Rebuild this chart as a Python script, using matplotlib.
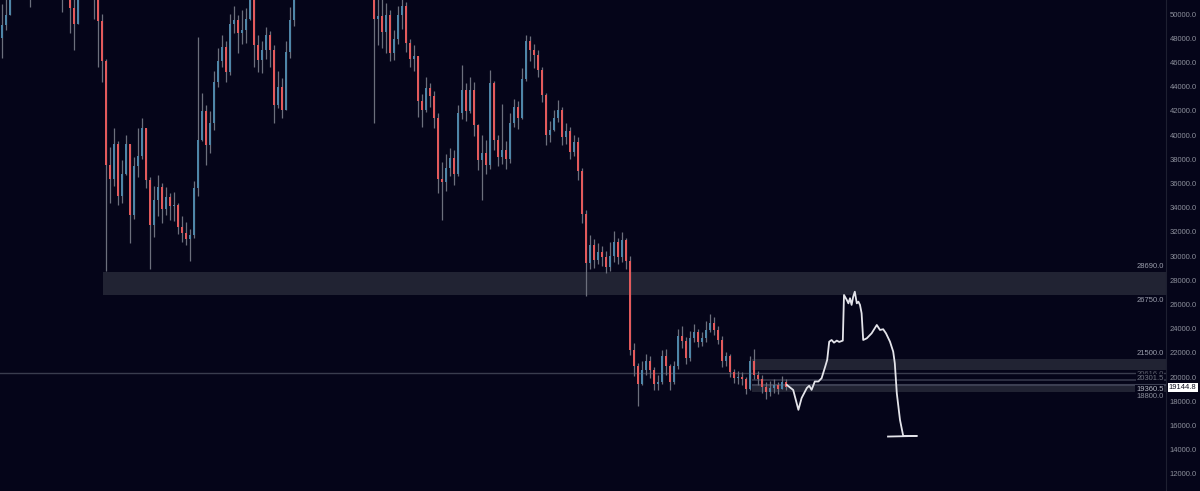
import matplotlib
matplotlib.use('Agg')
import matplotlib.pyplot as plt
import numpy as np

# daily-ish candles, price in USD
first_open = 48000
closes = [49100, 49900, 51600, 53000, 54500, 56800, 55200, 52600, 54800, 57900,
          59200, 58100, 56800, 58900, 60600, 56000, 54500, 50500, 49200, 53800,
          56200, 57400, 55800, 51500, 49400, 46100, 37500, 36400, 39300, 35000,
          36800, 39300, 33400, 37400, 38300, 40600, 36300, 32600, 34600, 35700,
          33900, 34900, 34100, 34200, 32400, 31900, 31400, 31700, 35600, 39600,
          42000, 39200, 41000, 44400, 46100, 47300, 45200, 49200, 49500, 48400,
          48700, 49600, 51400, 47400, 46200, 47000, 48300, 47000, 42500, 44000,
          42100, 46900, 49500, 52500, 55000, 57200, 56100, 60500, 62300, 60800,
          61700, 64000, 62500, 61200, 62700, 65500, 63900, 64700, 60200, 57400,
          56800, 58200, 56500, 49600, 49800, 48500, 49900, 46800, 47900, 49900,
          50700, 47600, 46300, 46500, 42800, 42100, 43900, 43200, 41400, 36400,
          36100, 37300, 38100, 36800, 41800, 43700, 42000, 43700, 40800, 37900,
          38500, 37500, 44300, 39600, 38200, 38800, 38000, 41000, 42300, 41400,
          44600, 47800, 47000, 46600, 45400, 43300, 40000, 40400, 41400, 42100,
          39800, 40300, 38600, 39400, 37000, 33500, 29400, 30900, 29700, 30300,
          29900, 29100, 30000, 31200, 29900, 31300, 29600, 22200, 20900, 19400,
          20600, 21300, 20600, 19400, 19600, 21700, 20900, 19600, 20900, 23400,
          23000, 21600, 23200, 23700, 22900, 23200, 23900, 24500, 23900, 23100,
          21300, 21700, 20400, 19900, 20000, 19800, 19000, 21300, 20200, 19800,
          19200, 18800, 19100, 19300, 19000, 19600, 19144.8]
highs = [50800, 52000, 52800, 54200, 55800, 57800, 58200, 56100, 55900, 58800,
         60700, 60100, 59300, 60200, 61800, 61300, 57200, 55400, 51500, 55100,
         57900, 59300, 58200, 56600, 52000, 50000, 46300, 39000, 40600, 39500,
         37900, 40000, 38800, 38200, 40600, 41400, 40200, 36500, 35800, 36700,
         36000, 35700, 35200, 35300, 34400, 33300, 32800, 32200, 36200, 48100,
         43500, 42500, 42000, 45300, 47200, 48300, 47800, 50000, 50700, 49900,
         50300, 50500, 52800, 52200, 48300, 47800, 48900, 48600, 47400, 45300,
         44700, 47800, 50600, 53500, 56200, 58000, 58300, 61700, 63200, 63500,
         63700, 67000, 64900, 63600, 64400, 66400, 67800, 66300, 65100, 60600,
         58900, 59200, 59300, 57000, 51500, 51300, 50900, 50300, 48700, 50700,
         51600, 51000, 47900, 47400, 46000, 43400, 44800, 44300, 43600, 41800,
         37800, 38400, 38900, 38800, 42500, 45800, 44300, 44800, 44400, 40900,
         40000, 39600, 45400, 44500, 40000, 42600, 39500, 41800, 43000, 42800,
         45500, 48300, 48200, 47500, 47000, 45600, 43500, 41200, 42100, 42900,
         42300, 41000, 40700, 40000, 39800, 37300, 33800, 31700, 31400, 31100,
         30800, 30400, 31200, 32100, 31500, 32000, 31500, 30000, 22800, 21200,
         21300, 21900, 21700, 20800, 20200, 22200, 22300, 21100, 21300, 24000,
         24200, 23300, 23800, 24400, 24000, 23700, 24600, 25200, 25000, 24200,
         23400, 22100, 21900, 20700, 20500, 20400, 20000, 21700, 22300, 20500,
         20200, 19600, 19700, 19800, 19600, 20100, 19800]
lows = [46400, 48700, 50300, 51700, 52800, 54000, 53900, 50600, 52000, 54300,
        57100, 56500, 55300, 56100, 58300, 50200, 52600, 48400, 47000, 50200,
        53200, 55100, 53500, 49600, 45600, 44400, 28800, 34400, 35800, 34200,
        34400, 36700, 31100, 33100, 36500, 38000, 35600, 28900, 31600, 33300,
        32700, 33400, 33000, 32900, 31800, 31200, 30900, 29600, 31500, 35000,
        39500, 37500, 38500, 40400, 44000, 45600, 44400, 45000, 48400, 46800,
        47500, 47600, 49500, 45600, 45200, 45100, 46300, 45600, 41000, 42200,
        41400, 42300, 46400, 49000, 52000, 54500, 54800, 55900, 59800, 58700,
        59900, 60700, 60400, 59400, 60800, 62100, 62800, 63000, 58400, 55600,
        55300, 55800, 53700, 41000, 47400, 47200, 46800, 46100, 46200, 47500,
        48800, 46900, 45600, 45300, 41500, 40700, 41900, 42300, 40600, 35200,
        33000, 35400, 36600, 35900, 36600, 41300, 41200, 41800, 39900, 37100,
        34600, 36800, 37200, 38800, 37400, 37600, 37200, 37700, 40700, 40500,
        41300, 44500, 46100, 45500, 44800, 42700, 39200, 39400, 40300, 41100,
        39200, 39300, 38000, 38300, 36300, 32700, 26700, 28900, 29000, 29300,
        29200, 28600, 28800, 29500, 29300, 29500, 28900, 21800, 20100, 17600,
        19300, 20200, 19900, 18900, 18900, 19400, 20200, 18900, 19400, 20700,
        22400, 21100, 21300, 22900, 22500, 22600, 22900, 23700, 23500, 22700,
        20800, 20900, 20000, 19500, 19400, 19300, 18600, 18900, 19800, 19300,
        18700, 18200, 18400, 18700, 18600, 19100, 18900]

# hand drawn projection (bar position, price)
proj_x = [196.2, 197.8, 199.1, 199.9, 201.2, 201.8, 202.4, 203.2, 204.1, 204.9,
          205.8, 206.3, 206.8, 207.4, 208.0, 208.7, 209.3, 210.2, 210.5, 211.2,
          211.6, 212.0, 212.4, 212.8, 213.2, 213.7, 214.1, 214.5, 214.9, 215.3,
          216.2, 217.4, 218.7, 219.5, 220.3, 221.0, 222.0, 222.8, 223.2, 223.7,
          224.5, 225.3, 228.7]
proj_y = [19350, 18930, 17290, 18260, 19090, 19280, 18940, 19630, 19630, 19900,
          20860, 21420, 22920, 23060, 22840, 23010, 22900, 23010, 26780, 26370,
          26090, 26510, 25960, 26640, 27050, 26090, 26230, 25960, 25270, 23060,
          23200, 23610, 24300, 23890, 23950, 23610, 22920, 22100, 21140, 18660,
          16450, 15130, 15130]
base_x = [221.5, 228.5]
base_y = [15080, 15130]

# support / resistance zones: (low, high, start bar)
zones = [(26750, 28690, 25.2), (20616, 21500, 187.5), (18800, 19360.5, 187.5)]
full_line = 20301.5
short_line = (19750, 187.5)
last_price = 19144.8

bg = '#050519'
zone_col = '#212333'
up_col = '#4f86a8'
down_col = '#e35a5c'
wick_col = '#6c6f7c'
label_font = 'Liberation Sans'
fs = 5.5

fig = plt.figure(figsize=(12, 4.91), dpi=100, facecolor=bg)
ax = fig.add_axes([0, 0, 1166 / 1200, 1])
ax.set_facecolor(bg)

x = np.arange(len(closes))
c = np.array(closes, dtype=float)
o = np.concatenate(([first_open], c[:-1]))
h = np.maximum.reduce([np.array(highs, dtype=float), o, c])
l = np.minimum.reduce([np.array(lows, dtype=float), o, c])
xmax = 291

for lo, hi, start in zones:
    ax.fill_between([start, xmax], lo, hi, color=zone_col, lw=0, zorder=1)
ax.axhline(full_line, color='#3a3d4e', lw=1, zorder=1.5)
ax.hlines(short_line[0], short_line[1], xmax, color='#34374a', lw=1.2, zorder=1.5)
ax.hlines(zones[2][1], zones[2][2], xmax, color='#3c3f52', lw=1.5, zorder=1.5)

up = c >= o
ax.vlines(x, l, h, color=wick_col, lw=0.9, zorder=2)
body = np.where(np.abs(c - o) < 120, 120, c - o)
ax.bar(x[up], body[up], bottom=o[up], width=0.7, color=up_col, lw=0, zorder=3)
ax.bar(x[~up], body[~up], bottom=o[~up], width=0.7, color=down_col, lw=0, zorder=3)

ax.plot(proj_x, proj_y, color='#e4e4ea', lw=1.3, zorder=4, solid_joinstyle='round')
ax.plot(base_x, base_y, color='#e4e4ea', lw=1.3, zorder=4)

ax.set_xlim(-0.5, xmax)
ax.set_ylim(10580, 51160)

# level labels next to the price scale
lbl_kw = dict(xycoords=('axes fraction', 'data'), textcoords='offset points',
              ha='right', fontsize=fs, family=label_font, zorder=6,
              bbox=dict(boxstyle='square,pad=0.1', fc=bg, ec='none'))
levels = [(28690, '28690.0', 'bottom', '#9a9dab'),
          (26750, '26750.0', 'top', '#9a9dab'),
          (21500, '21500.0', 'bottom', '#9a9dab'),
          (20616, '20616.0', 'top', '#5c5f6c'),
          (20301.5, '20301.5', 'top', '#6f7380'),
          (19360.5, '19360.5', 'top', '#b5b8c3'),
          (18800, '18800.0', 'top', '#8a8d9a')]
for val, txt, va, col in levels:
    off = 1 if va == 'bottom' else -1
    ax.annotate(txt, xy=(0.998, val), xytext=(0, off), va=va, color=col, **lbl_kw)

ax.yaxis.tick_right()
ax.set_yticks(np.arange(12000, 50001, 2000))
ax.set_yticklabels([f'{v:.1f}' for v in np.arange(12000, 50001, 2000)])
ax.tick_params(axis='y', length=0, pad=2.5, labelsize=fs, labelcolor='#8c8f9b')
for t in ax.get_yticklabels():
    t.set_family(label_font)
ax.set_xticks([])
for side in ['top', 'left', 'bottom']:
    ax.spines[side].set_visible(False)
ax.spines['right'].set_color('#1e2031')

ax.annotate(f'{last_price:.1f}', xy=(1, last_price), xycoords=('axes fraction', 'data'),
            xytext=(2, 0), textcoords='offset points', ha='left', va='center',
            fontsize=fs, family=label_font, color='#101020', annotation_clip=False,
            bbox=dict(boxstyle='square,pad=0.15', fc='white', ec='none'))

fig.savefig('out.png', dpi=100, facecolor=bg)
